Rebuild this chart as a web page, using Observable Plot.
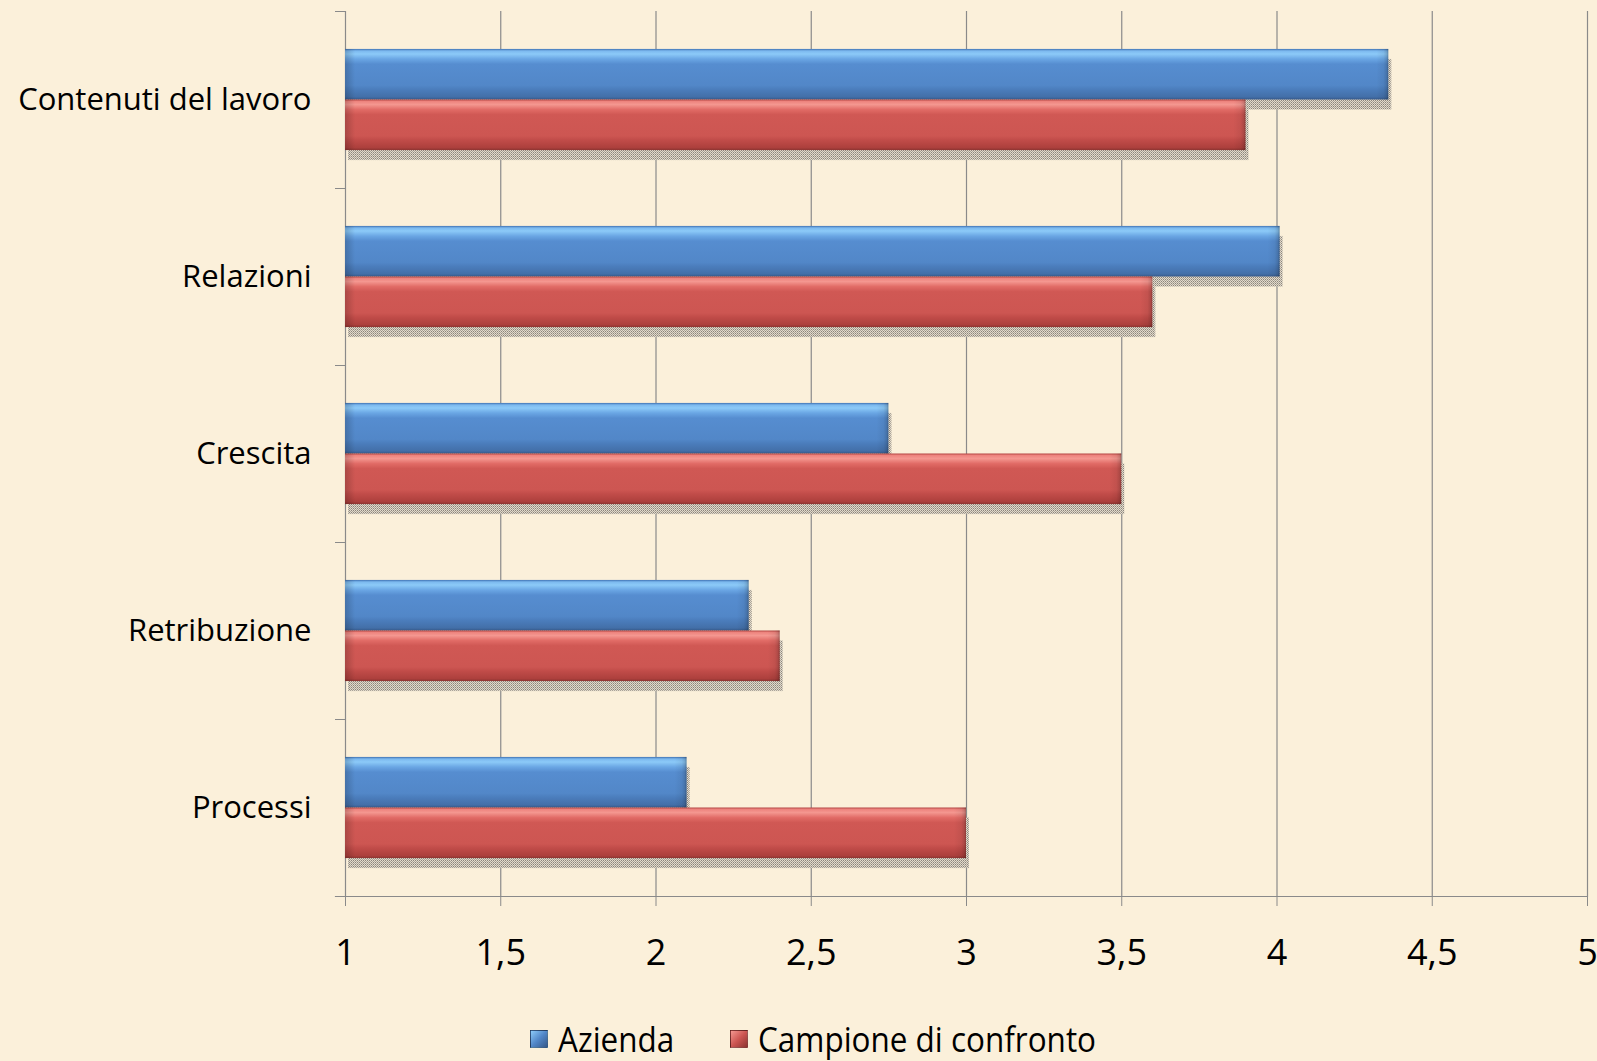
<!DOCTYPE html>
<html>
<head>
<meta charset="utf-8">
<script src="https://cdn.jsdelivr.net/npm/d3@7"></script>
<script src="https://cdn.jsdelivr.net/npm/@observablehq/plot@0.6"></script>
<style>
  html, body { margin: 0; padding: 0; background: #fbf0da; }
  body { width: 1597px; height: 1061px; overflow: hidden; position: relative; font-family: "Open Sans", sans-serif; }
  #chart svg { display: block; }
  #legend { position: absolute; left: 530px; top: 1014px; height: 50px; display: flex; align-items: center; font-size: 34px; color: #000; white-space: nowrap; }
  .item { display: flex; align-items: center; }
  .item:first-child { width: 200px; }
  .sw { width: 16px; height: 16px; margin-right: 10px; border: 1px solid rgba(0,0,0,0.35); flex: none; }
  .lbl { display: inline-block; transform-origin: left center; transform: scaleX(0.925); }
</style>
</head>
<body>
<div id="chart"></div>
<div id="legend"></div>
<script>
// ---- data ----
const categories = ["Contenuti del lavoro", "Relazioni", "Crescita", "Retribuzione", "Processi"];
const series = ["Azienda", "Campione di confronto"];
const azienda = [4.36, 4.01, 2.75, 2.30, 2.10];
const campione = [3.90, 3.60, 3.50, 2.40, 3.00];
const xTicks = [1, 1.5, 2, 2.5, 3, 3.5, 4, 4.5, 5];
const xDomain = [1, 5];
const seriesColors = ["#4f86c8", "#c9514e"];

const data = categories.flatMap((c, i) => [
  {category: c, series: series[0], value: azienda[i]},
  {category: c, series: series[1], value: campione[i]}
]);

// ---- layout ----
const W = 1597, H = 1012;
const mTop = 11, mBottom = H - 896, mLeft = 345, mRight = 10;
const facetStep = (H - mTop - mBottom) / categories.length;
const gridColor = "#8a8a8a";

const plot = Plot.plot({
  width: W,
  height: H,
  marginTop: mTop,
  marginBottom: mBottom,
  marginLeft: mLeft,
  marginRight: mRight,
  style: {background: "transparent", fontFamily: "'Open Sans', sans-serif", color: "#000", overflow: "visible"},
  x: {domain: xDomain, axis: null},
  y: {domain: series, axis: null, paddingInner: 0, paddingOuter: 0.75, round: false},
  fy: {domain: categories, axis: null, padding: 0, round: false},
  color: {domain: series, range: ["url(#gradBlue)", "url(#gradRed)"]},
  marks: [
    Plot.ruleX(xTicks.slice(1), {stroke: gridColor, strokeWidth: 1.2}),
    Plot.frame({anchor: "left", stroke: gridColor, strokeWidth: 1.2, facet: "super"}),
    Plot.frame({anchor: "bottom", stroke: gridColor, strokeWidth: 1.2, facet: "super", insetLeft: -10}),
    Plot.axisX(xTicks, {anchor: "bottom", tickSize: 10, tickPadding: 33, fontSize: 36, stroke: gridColor, label: null,
      tickFormat: d => String(d).replace(".", ",")}),
    Plot.axisFy({anchor: "left", tickSize: 10, dy: -facetStep / 2, stroke: gridColor, label: null, tickFormat: () => ""}),
    Plot.axisFy({anchor: "left", tickSize: 0, tickPadding: 34, fontSize: 31, label: null}),
    // drop shadows
    Plot.barX(data, {fy: "category", y: "series", x1: () => xDomain[0], x2: "value", fill: "url(#shadowPat)", dx: 3, dy: 10, insetLeft: 0}),
    // bars
    Plot.barX(data, {fy: "category", y: "series", x1: () => xDomain[0], x2: "value", fill: "series"}),
    // bevelled bar ends
    Plot.barX(data, {fy: "category", y: "series", x1: "value", x2: "value", insetLeft: -12, fill: "url(#bevelEnd)"}),
    Plot.barX(data, {fy: "category", y: "series", x1: () => xDomain[0], x2: () => xDomain[0], insetRight: -10, fill: "url(#bevelStart)"})
  ]
});

// gradients / patterns for the bevelled Excel look
const defs = d3.create("svg:defs");
function grad(id, stops, vertical = true) {
  const g = defs.append("linearGradient").attr("id", id)
    .attr("x1", 0).attr("y1", 0).attr("x2", vertical ? 0 : 1).attr("y2", vertical ? 1 : 0);
  stops.forEach(([o, c, a = 1]) => g.append("stop").attr("offset", o).attr("stop-color", c).attr("stop-opacity", a));
}
grad("gradBlue", [[0, "#3f71b2"], [0.04, "#7cb9ef"], [0.1, "#8ccaf8"], [0.2, "#6aa6e4"], [0.3, "#568dd0"], [0.72, "#5287c8"], [0.8, "#4b7dbc"], [0.95, "#436fa8"], [1, "#36598a"]]);
grad("gradRed", [[0, "#b54744"], [0.04, "#ee857f"], [0.1, "#f49790"], [0.2, "#e16b66"], [0.3, "#d05854"], [0.72, "#cd5652"], [0.8, "#c14c49"], [0.95, "#ad403d"], [1, "#8d3431"]]);
grad("bevelEnd", [[0, "#000", 0], [0.6, "#000", 0.06], [0.85, "#000", 0.16], [1, "#000", 0.32]], false);
grad("bevelStart", [[0, "#000", 0.18], [1, "#000", 0]], false);
const pat = defs.append("pattern").attr("id", "shadowPat").attr("width", 2).attr("height", 2).attr("patternUnits", "userSpaceOnUse");
pat.append("rect").attr("width", 2).attr("height", 2).attr("fill", "#e3dacb");
pat.append("rect").attr("width", 1).attr("height", 1).attr("fill", "#8b867d");
pat.append("rect").attr("x", 1).attr("y", 1).attr("width", 1).attr("height", 1).attr("fill", "#aaa498");
plot.insertBefore(defs.node(), plot.firstChild);

document.getElementById("chart").appendChild(plot);

// legend
const legend = d3.select("#legend");
const swatchBg = [
  "linear-gradient(135deg, #8ccaf8 0%, #5287c8 50%, #36598a 100%)",
  "linear-gradient(135deg, #f49790 0%, #cd5652 50%, #8d3431 100%)"
];
series.forEach((s, i) => {
  const it = legend.append("div").attr("class", "item");
  it.append("div").attr("class", "sw").style("background", swatchBg[i]).style("background-color", seriesColors[i]);
  it.append("span").attr("class", "lbl").text(s);
});
</script>
</body>
</html>
